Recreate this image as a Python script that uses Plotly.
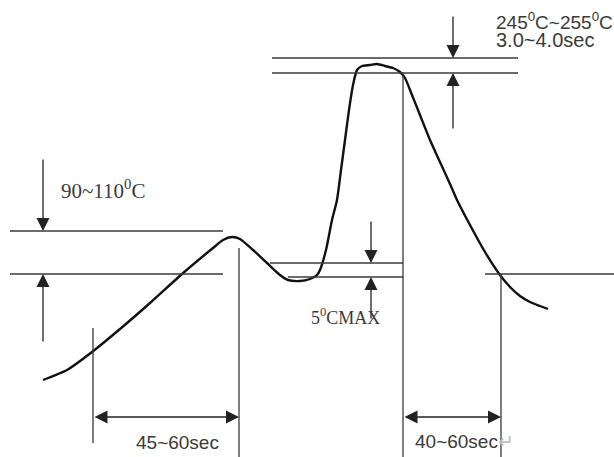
import plotly.graph_objects as go

# Temperature profile curve (in picture units: x = time, y = level, y grows downward)
time = [43, 67, 92, 120, 150, 182, 213, 223, 232, 240, 253, 267, 280, 288, 300, 310, 317,
        320, 326, 332, 337, 341, 345, 349, 353, 357, 362, 370, 377, 385, 393, 400, 405,
        412, 420, 430, 440, 450, 457, 470, 485, 500, 510, 520, 530, 540, 548]
temp = [380, 370, 352, 329, 303, 274, 248, 240, 237, 239, 250, 263, 275, 280, 281, 279, 275,
        270, 250, 220, 200, 170, 140, 110, 85, 70, 66, 65, 64, 66, 68, 72, 78,
        95, 115, 140, 162, 184, 200, 225, 252, 275, 287, 296, 302, 306, 309]

# Guide lines: (x0, y0, x1, y1)
guide_lines = [
    (10, 231, 223, 231), (10, 274, 223, 274),        # preheat band
    (272, 58, 518, 58), (272, 73, 518, 73),          # peak band
    (270, 263, 403, 263), (288, 277, 403, 277),      # 5C max band
    (485, 274, 614, 274),                            # cooling level
    (93, 328, 93, 443), (239, 248, 239, 457),        # preheat time
    (403, 73, 403, 457), (501, 274, 501, 457),       # reflow time
]

# Single arrows: (tail x, tail y, head x, head y)
single_arrows = [
    (43, 158, 43, 231), (43, 343, 43, 274),
    (453, 15, 453, 58), (453, 130, 453, 73),
    (371, 220, 371, 263), (371, 320, 371, 277),
]
# Double arrows
double_arrows = [(93, 417, 239, 417), (403, 417, 501, 417)]

# Labels: (text, x, y, font family, size)
labels = [
    ("245<sup>0</sup>C~255<sup>0</sup>C", 494, 21, "Liberation Sans", 19),
    ("3.0~4.0sec", 494, 40, "Liberation Sans", 20),
    ("90~110<sup>0</sup>C", 59, 189, "Liberation Serif", 21),
    ("5<sup>0</sup>CMAX", 309, 316, "Liberation Serif", 18),
    ("45~60sec", 134, 442, "Liberation Sans", 19),
    ("40~60sec<span style='color:#bbbbbb'>↵</span>", 413, 441, "Liberation Sans", 19),
]

fig = go.Figure()
fig.add_trace(go.Scatter(x=time, y=temp, mode="lines",
                         line=dict(color="#111111", width=2.4, shape="spline", smoothing=0.6),
                         hoverinfo="skip", showlegend=False))

for x0, y0, x1, y1 in guide_lines:
    fig.add_shape(type="line", x0=x0, y0=y0, x1=x1, y1=y1, xref="x", yref="y",
                  line=dict(color="#3a3a3a", width=1.3))

for tx, ty, hx, hy in single_arrows:
    fig.add_annotation(x=hx, y=hy, ax=tx, ay=ty, xref="x", yref="y", axref="x", ayref="y",
                       text="", showarrow=True, arrowhead=2, arrowsize=2.0, arrowwidth=1.3,
                       arrowcolor="#222222", standoff=0)

for tx, ty, hx, hy in double_arrows:
    fig.add_annotation(x=hx, y=hy, ax=tx, ay=ty, xref="x", yref="y", axref="x", ayref="y",
                       text="", showarrow=True, arrowhead=2, startarrowhead=2,
                       arrowside="end+start", arrowsize=2.0, startarrowsize=2.0,
                       arrowwidth=1.3, arrowcolor="#222222", standoff=0, startstandoff=0)

for txt, x, y, fam, size in labels:
    fig.add_annotation(x=x, y=y, xref="x", yref="y", text=txt, showarrow=False,
                       xanchor="left", yanchor="middle",
                       font=dict(family=fam, size=size, color="#3a3a3a"))

fig.update_xaxes(range=[0, 614], visible=False, fixedrange=True)
fig.update_yaxes(range=[457, 0], visible=False, fixedrange=True)
fig.update_layout(width=614, height=457, margin=dict(l=0, r=0, t=0, b=0),
                  plot_bgcolor="white", paper_bgcolor="white")

fig.write_html("out.html", config={"displayModeBar": False},
               post_script="document.body.style.margin='0';document.body.style.overflow='hidden';")
